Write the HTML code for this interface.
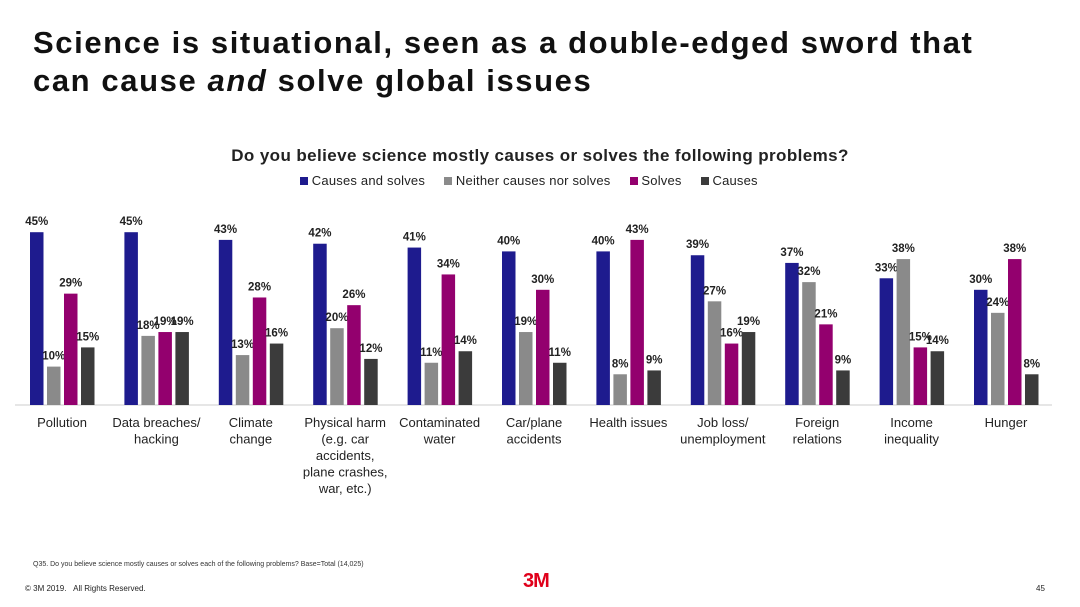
<!DOCTYPE html>
<html><head><meta charset="utf-8"><style>
body{margin:0;width:1080px;height:607px;background:#fff;font-family:"Liberation Sans",sans-serif;overflow:hidden;position:relative}
h1{position:absolute;left:33px;top:24px;margin:0;font-size:31px;line-height:38px;font-weight:bold;color:#111;letter-spacing:1.6px}
.t{position:absolute;white-space:nowrap}
</style></head><body>
<h1>Science is situational, seen as a double-edged sword that<br>can cause <i>and</i> solve global issues</h1>
<div class="t" style="left:0;width:1080px;text-align:center;top:146px;font-size:17px;font-weight:bold;color:#222;letter-spacing:0.4px">Do you believe science mostly causes or solves the following problems?</div>
<div class="t" style="left:300px;top:173px;font-size:13px;color:#222;letter-spacing:0.2px">
<span><span style="display:inline-block;width:8px;height:8px;background:#1e1b8e"></span> Causes and solves</span>&nbsp;&nbsp;&nbsp;&nbsp;
<span><span style="display:inline-block;width:8px;height:8px;background:#8a8a8a"></span> Neither causes nor solves</span>&nbsp;&nbsp;&nbsp;&nbsp;
<span><span style="display:inline-block;width:8px;height:8px;background:#93006e"></span> Solves</span>&nbsp;&nbsp;&nbsp;&nbsp;
<span><span style="display:inline-block;width:8px;height:8px;background:#3b3b3b"></span> Causes</span></div>
<svg id="chart" width="1080" height="607" style="position:absolute;left:0;top:0"></svg>
<div class="t" style="left:33px;top:561px;font-size:7px;color:#333">Q35. Do you believe science mostly causes or solves each of the following problems? Base=Total (14,025)</div>
<div class="t" style="left:25px;top:584px;font-size:8px;color:#222">© 3M 2019.&nbsp;&nbsp;&nbsp;All Rights Reserved.</div>
<div class="t" style="left:523px;top:570px;font-size:20px;font-weight:bold;color:#e0001b;letter-spacing:-1px">3M</div>
<div class="t" style="left:1036px;top:584px;font-size:8px;color:#222">45</div>
<script>
const categories=["Pollution","Data breaches/\nhacking","Climate\nchange","Physical harm\n(e.g. car\naccidents,\nplane crashes,\nwar, etc.)","Contaminated\nwater","Car/plane\naccidents","Health issues","Job loss/\nunemployment","Foreign\nrelations","Income\ninequality","Hunger"];
const causesAndSolves=[45,45,43,42,41,40,40,39,37,33,30];
const neither=[10,18,13,20,11,19,8,27,32,38,24];
const solves=[29,19,28,26,34,30,43,16,21,15,38];
const causes=[15,19,16,12,14,11,9,19,9,14,8];
const series=[causesAndSolves,neither,solves,causes];
const colors=["#1e1b8e","#8a8a8a","#93006e","#3b3b3b"];
const svg=document.getElementById('chart');const NS="http://www.w3.org/2000/svg";
const base=405,scale=3.84,x0=30,pitch=94.4,bw=13.5,bp=17;
const y=v=>base-v*scale;
const xb=(g,s)=>x0+g*pitch+s*bp;
const ax=document.createElementNS(NS,'line');
ax.setAttribute('x1',15);ax.setAttribute('x2',1052);ax.setAttribute('y1',base);ax.setAttribute('y2',base);ax.setAttribute('stroke','#ccc');


svg.appendChild(ax);
categories.forEach((c,g)=>{
 series.forEach((arr,s)=>{
  const r=document.createElementNS(NS,'rect');
  r.setAttribute('x',xb(g,s));r.setAttribute('y',y(arr[g]));r.setAttribute('width',bw);r.setAttribute('height',arr[g]*scale);r.setAttribute('fill',colors[s]);
  
  
  svg.appendChild(r);
  const t=document.createElementNS(NS,'text');
  t.setAttribute('x',xb(g,s)+bw/2);t.setAttribute('y',y(arr[g])-7);t.setAttribute('text-anchor','middle');t.setAttribute('font-size','11.5');t.setAttribute('font-weight','bold');t.setAttribute('fill','#222');
  t.textContent=arr[g]+'%';
  
  
  svg.appendChild(t);
 });
 const lt=document.createElementNS(NS,'text');
 lt.setAttribute('text-anchor','middle');lt.setAttribute('font-size','13');lt.setAttribute('fill','#222');
 
 
 c.split('\n').forEach((line,i)=>{const ts=document.createElementNS(NS,'tspan');ts.setAttribute('x',x0+g*pitch+32);ts.setAttribute('y',427+i*16.5);ts.textContent=line;lt.appendChild(ts);});
 svg.appendChild(lt);
});
</script>
</body></html>
